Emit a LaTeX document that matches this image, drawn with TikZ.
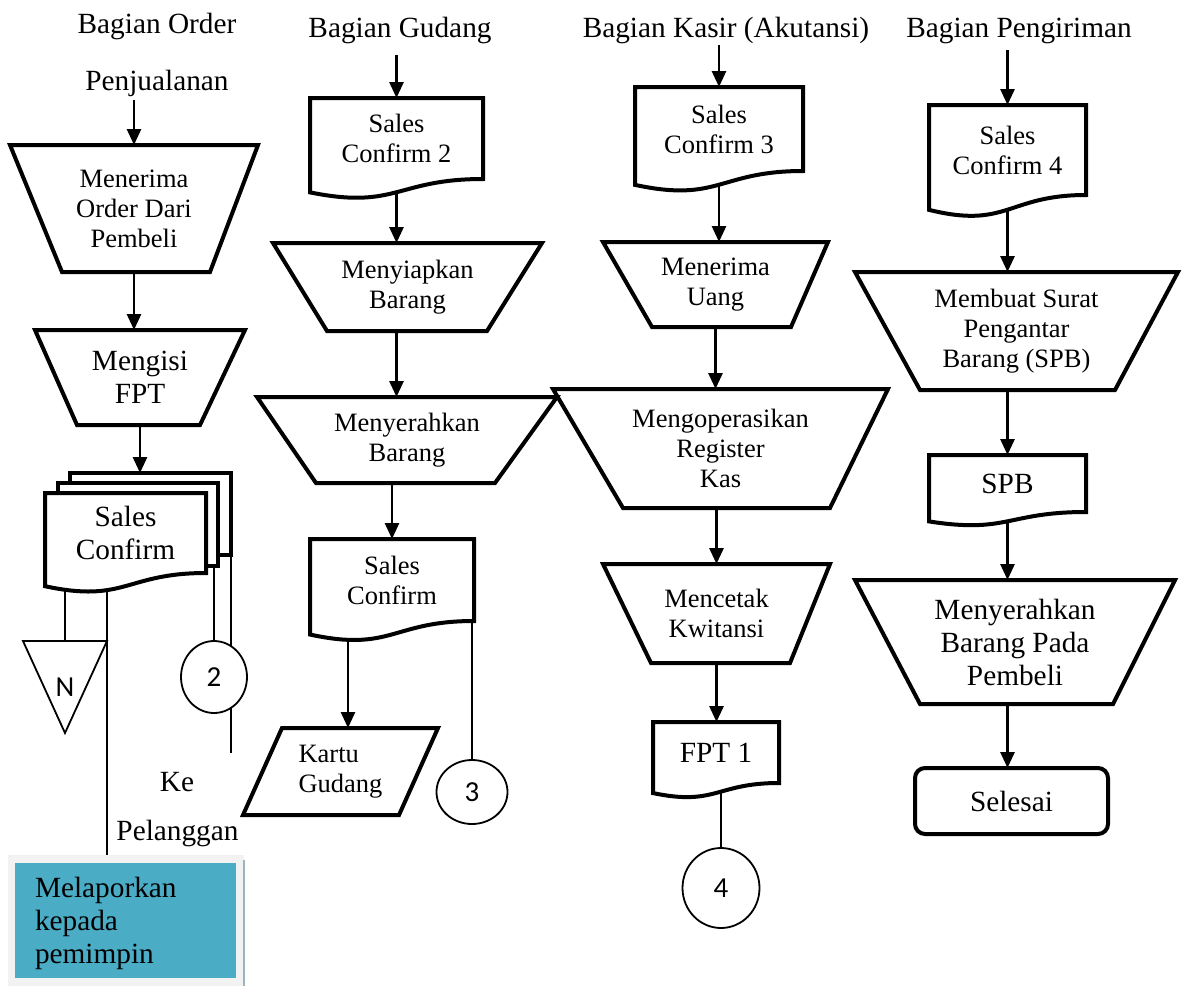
\documentclass[tikz,border=0pt]{standalone}
\usepackage{fontspec}
\setmainfont{Liberation Serif}
\newfontfamily\carlito{Carlito}
\usetikzlibrary{arrows.meta,calc,shapes.geometric}

\definecolor{laporblue}{RGB}{75,172,198}
\definecolor{laporgray}{RGB}{242,242,242}
\definecolor{laporedge}{RGB}{155,180,190}

\pgfdeclarelayer{edges}
\pgfdeclarelayer{sheets}
\pgfsetlayers{edges,sheets,main}

\tikzset{
  txt/.style={font=\fontsize{26.5}{30}\selectfont, align=center, inner sep=0pt, outer sep=0pt},
  bigtxt/.style={font=\fontsize{29.3}{33}\selectfont, align=center, inner sep=0pt, outer sep=0pt},
  numtxt/.style={font=\carlito\fontsize{29}{32}\selectfont},
  shapeline/.style={line width=4pt, line join=miter},
  thinline/.style={line width=1.8pt},
  arr/.style={line width=2.8pt, -{Triangle[length=16pt,width=14pt]}},
  conn/.style={ellipse, draw, thinline, fill=white, inner sep=0pt, outer sep=0pt, numtxt},
  sheet/.style={draw, shapeline, fill=white, inner sep=0pt, outer sep=0pt},
}

% manual operation: node name, left inset, right inset
\newcommand\mopline[3]{%
  \draw[shapeline] (#1.north west) -- (#1.north east) -- ([xshift=-#3pt]#1.south east)
    -- ([xshift=#2pt]#1.south west) -- cycle;}
% document with wavy bottom
\newcommand\docline[1]{%
  \draw[shapeline, fill=white] (#1.north west) -- (#1.north east) -- (#1.south east)
    .. controls (#1.south) and ($(#1.south)!-0.381!(#1.north)$)
    .. ($(#1.south west)!-0.165!(#1.north west)$) -- cycle;}

\begin{document}
\begin{tikzpicture}[x=1pt,y=-1pt]
\useasboundingbox (0,0) rectangle (1184,986);

% judul bagian
\node[bigtxt, anchor=base] (ord) at (157,33) {Bagian Order};
\node[bigtxt, anchor=base] (pen) at (157,90) {Penjualanan};
\node[bigtxt, anchor=base] (gud) at (400,37) {Bagian Gudang};
\node[bigtxt, anchor=base] (kas) at (726,37) {Bagian Kasir (Akutansi)};
\node[bigtxt, anchor=base] (peng) at (1019,37) {Bagian Pengiriman};

% bagian order penjualan
\node[txt, minimum width=248, minimum height=127] (m1) at (134,208.5) {Menerima\\Order Dari\\Pembeli};
\node[bigtxt, minimum width=210, minimum height=95] (m2) at (140,377.5) {Mengisi\\FPT};
\node[bigtxt, minimum width=161, minimum height=80] (sc1) at (125.5,533) {Sales\\Confirm};
\node[numtxt, minimum width=84, minimum height=92, inner sep=0pt, outer sep=0pt] (ntri) at (65,687) {N};
\node[conn, minimum width=66, minimum height=72] (c2) at (214,677) {2};
\coordinate (kend) at (231,753);
\node[bigtxt, anchor=base] (ke) at (177,791) {Ke};
\node[bigtxt, anchor=base] (pel) at (177.5,840) {Pelanggan};
\node[fill=laporgray, minimum width=236, minimum height=131, inner sep=0pt, outer sep=0pt] (lapor) at (126,920.5) {};
\fill[laporblue] ([shift={(7pt,-8pt)}]lapor.north west) rectangle ([shift={(-8pt,8pt)}]lapor.south east);
\draw[laporedge, line width=1.5pt] ([yshift=-5pt]lapor.north east) -- (lapor.south east);
\node[bigtxt, align=left, anchor=north west] (laptxt) at (35,877) {Melaporkan\\kepada\\pemimpin};

% bagian gudang
\node[txt, minimum width=173, minimum height=81] (sc2) at (396.5,138.5) {Sales\\Confirm 2};
\node[txt, minimum width=269, minimum height=88] (mg1) at (407.5,287) {Menyiapkan\\Barang};
\node[txt, minimum width=300, minimum height=86] (mg2) at (407,440) {Menyerahkan\\Barang};
\node[txt, minimum width=164, minimum height=82] (scg) at (392,580) {Sales\\Confirm};
\node[txt, align=left, minimum width=195, minimum height=87] (kartu) at (340.5,771.5) {Kartu\\Gudang};
\node[conn, minimum width=71, minimum height=64] (c3) at (472,792) {3};

% bagian kasir
\node[txt, minimum width=168, minimum height=84] (sc3) at (719,129) {Sales\\Confirm 3};
\node[txt, minimum width=225, minimum height=85] (k1) at (715.5,284.5) {Menerima\\Uang};
\node[txt, minimum width=335, minimum height=119] (k2) at (720.5,448.5) {Mengoperasikan\\Register\\Kas};
\node[txt, minimum width=227, minimum height=99] (k3) at (716.5,613.5) {Mencetak\\Kwitansi};
\node[bigtxt, minimum width=126, minimum height=61] (fpt) at (716,752.5) {FPT 1};
\node[conn, minimum width=77, minimum height=80] (c4) at (721,888) {4};

% bagian pengiriman
\node[txt, minimum width=157, minimum height=90] (sc4) at (1007.5,150) {Sales\\Confirm 4};
\node[txt, minimum width=323, minimum height=118] (p1) at (1016.5,331) {Membuat Surat\\Pengantar\\Barang (SPB)};
\node[bigtxt, minimum width=157, minimum height=57] (spb) at (1007.5,483.5) {SPB};
\node[bigtxt, minimum width=320, minimum height=124] (p2) at (1015,642) {Menyerahkan\\Barang Pada\\Pembeli};
\node[bigtxt, draw, shapeline, rounded corners=10pt, minimum width=193, minimum height=66] (sel) at (1011.5,801) {Selesai};

% garis bentuk
\mopline{m1}{52}{48}
\mopline{m2}{42}{45}
\mopline{mg1}{54}{55}
\mopline{mg2}{59}{62}
\mopline{k1}{49}{37}
\mopline{k2}{70}{58}
\mopline{k3}{48}{40}
\mopline{p1}{65}{63}
\mopline{p2}{65}{62}
\draw[shapeline] (kartu.south west) -- ([xshift=39pt]kartu.north west) -- (kartu.north east)
  -- ([xshift=-39pt]kartu.south east) -- cycle;

\begin{pgfonlayer}{sheets}
\node[sheet, minimum width=161, minimum height=82] (sc1b) at (150.5,514) {};
\node[sheet, minimum width=160, minimum height=83] (sc1c) at (138,524.5) {};
\docline{sc1}
\docline{sc2}
\docline{scg}
\docline{sc3}
\docline{fpt}
\docline{sc4}
\docline{spb}
\draw[thinline, fill=white] (ntri.north west) -- (ntri.north east) -- (ntri.south) -- cycle;
\end{pgfonlayer}

% panah
\begin{pgfonlayer}{edges}
\draw[arr, shorten <=3.6pt] (pen.south -| m1.north) -- (m1.north);
\draw[arr] (m1.south) -- (m1.south |- m2.north);
\draw[arr] (m2.south) -- (m2.south |- sc1b.north);
\draw[thinline] (sc1.south -| ntri.north) -- (ntri.north);
\draw[thinline] ([xshift=-18.5pt]sc1.south) -- ([xshift=-18.5pt]sc1.south |- lapor.north);
\draw[thinline] (c2.north |- sc1c.south) -- (c2.north);
\draw[thinline] (sc1b.south east) -- (kend);

\draw[arr, shorten <=11.6pt] (gud.south -| sc2.north) -- (sc2.north);
\draw[arr] (sc2.south) -- (sc2.south |- mg1.north);
\draw[arr] (sc2.south |- mg1.south) -- (sc2.south |- mg2.north);
\draw[arr] (scg.north |- mg2.south) -- (scg.north);
\draw[arr] (scg.south -| 348,0) -- (kartu.north -| 348,0);
\draw[thinline] (c3.north |- scg.south) -- (c3.north);

\draw[arr, shorten <=1.5pt] (kas.south -| sc3.north) -- (sc3.north);
\draw[arr] (sc3.south) -- (sc3.south |- k1.north);
\draw[arr] (k1.south) -- (k1.south |- k2.north);
\draw[arr] (k3.north |- k2.south) -- (k3.north);
\draw[arr] (k3.south) -- (k3.south |- fpt.north);
\draw[thinline] (c4.north |- fpt.south) -- (c4.north);

\draw[arr, shorten <=6.6pt] (peng.south -| sc4.north) -- (sc4.north);
\draw[arr] (sc4.south) -- (sc4.south |- p1.north);
\draw[arr] (spb.north |- p1.south) -- (spb.north);
\draw[arr] (spb.south) -- (spb.south |- p2.north);
\draw[arr] (spb.south |- p2.south) -- (spb.south |- sel.north);
\end{pgfonlayer}
\end{tikzpicture}
\end{document}
